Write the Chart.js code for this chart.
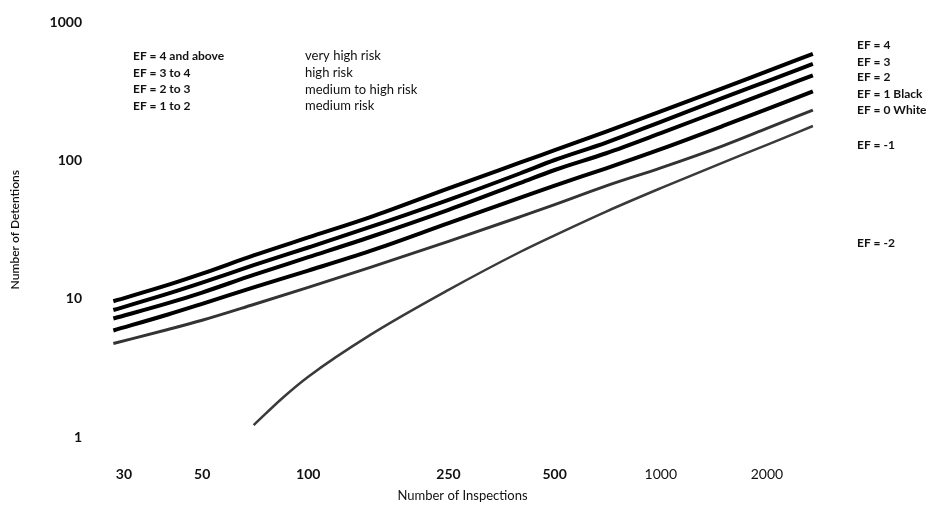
<!DOCTYPE html>
<html>
<head>
<meta charset="utf-8">
<title>Number of Detentions vs Number of Inspections</title>
<script src="https://cdn.jsdelivr.net/npm/chart.js@4.4.1/dist/chart.umd.min.js"></script>
<style>
  html, body { margin: 0; padding: 0; background: #ffffff; }
  .chart-wrap { position: relative; width: 933px; height: 509px; }
</style>
</head>
<body>
<div class="chart-wrap"><canvas id="detentionChart"></canvas></div>
<script>
// inspections (x) and detentions (y)
const inspections = [28, 40, 50, 70, 100, 150, 250, 400, 500, 700, 1000, 1500, 2000, 2700];
const ef4 = [9.6, 12.6, 15.2, 20.6, 27.8, 39, 63, 97, 119, 162, 227, 334, 443, 591];
const ef3 = [8.3, 10.9, 13.1, 17.5, 23.5, 33.1, 52, 81, 101, 135, 191, 284, 375, 501];
const ef2 = [7.2, 9.3, 11.1, 14.9, 20, 28, 44, 69, 85.5, 113, 158, 234, 309, 414];
const ef1 = [5.9, 7.7, 9.2, 12.1, 16, 22.2, 35.3, 54, 66, 88, 121, 178, 236, 317];
const ef0 = [4.75, 6.0, 7.0, 9.1, 12.1, 16.9, 26, 39.3, 48, 65.6, 88.6, 128, 171, 232];

const inspectionsLow = [70, 85, 100, 150, 250, 400, 500, 700, 1000, 1500, 2000, 2700];
const efLow = [1.22, 1.94, 2.73, 5.48, 11.6, 21.9, 28.8, 42.8, 63.2, 96.8, 130, 178];

const xTickValues = [30, 50, 100, 250, 500, 1000, 2000];
const yTickValues = [1, 10, 100, 1000];

const riskBands = ["EF = 4 and above", "EF = 3 to 4", "EF = 2 to 3", "EF = 1 to 2"];
const riskLabels = ["very high risk", "high risk", "medium to high risk", "medium risk"];
const lineLabels = ["EF = 4", "EF = 3", "EF = 2", "EF = 1 Black", "EF = 0 White", "EF = -1", "EF = -2"];

const FONT = "Lato";
const INK = "#111111";

function toPoints(xs, ys) {
  return xs.map((x, i) => ({ x, y: ys[i] }));
}

function lineDataset(label, xs, ys, color, width) {
  return {
    label,
    data: toPoints(xs, ys),
    borderColor: color,
    borderWidth: width,
    pointRadius: 0,
    cubicInterpolationMode: "monotone",
    fill: false
  };
}

// text blocks around the plot (risk key top-left, line names on the right)
const annotationText = {
  id: "annotationText",
  afterDraw(chart) {
    const { ctx } = chart;
    const rightY = [45, 62, 77, 94, 110, 145, 243];
    ctx.save();
    ctx.fillStyle = INK;
    ctx.textBaseline = "middle";
    ctx.textAlign = "left";
    ctx.font = `bold 12px ${FONT}`;
    riskBands.forEach((text, i) => ctx.fillText(text, 133, 56 + i * 16.7));
    ctx.font = `13px ${FONT}`;
    riskLabels.forEach((text, i) => ctx.fillText(text, 305, 56 + i * 16.7));
    ctx.font = `bold 12px ${FONT}`;
    lineLabels.forEach((text, i) => ctx.fillText(text, 857, rightY[i]));
    ctx.restore();
  }
};

new Chart(document.getElementById("detentionChart"), {
  type: "line",
  data: {
    datasets: [
      lineDataset("EF = 4", inspections, ef4, "#000000", 4),
      lineDataset("EF = 3", inspections, ef3, "#000000", 4),
      lineDataset("EF = 2", inspections, ef2, "#000000", 4),
      lineDataset("EF = 1 Black", inspections, ef1, "#000000", 4),
      lineDataset("EF = 0 White", inspections, ef0, "#333333", 3),
      lineDataset("EF = -1", inspectionsLow, efLow, "#3a3a3a", 2.5)
    ]
  },
  options: {
    responsive: true,
    maintainAspectRatio: false,
    animation: false,
    layout: {
      padding: { left: 0, right: 104, top: 20, bottom: 0 }
    },
    plugins: {
      legend: { display: false },
      tooltip: { enabled: false }
    },
    scales: {
      x: {
        type: "logarithmic",
        position: "bottom",
        min: 25,
        max: 3000,
        grid: { display: false, drawTicks: false },
        border: { display: false },
        afterBuildTicks: (scale) => {
          scale.ticks = xTickValues.map((value) => ({ value }));
        },
        afterFit: (scale) => {
          scale.height = 72;
        },
        ticks: {
          padding: 29,
          autoSkip: false,
          maxRotation: 0,
          color: INK,
          font: (ctx) => ({
            family: FONT,
            size: 14,
            weight: ctx.tick && ctx.tick.value >= 1000 ? "normal" : "bold"
          }),
          callback: (value) => String(value)
        },
        title: {
          display: true,
          text: "Number of Inspections",
          color: INK,
          font: { family: FONT, size: 13 },
          padding: { top: 0, bottom: 5 }
        }
      },
      y: {
        type: "logarithmic",
        min: 1,
        max: 1000,
        grid: { display: false, drawTicks: false },
        border: { display: false },
        afterBuildTicks: (scale) => {
          scale.ticks = yTickValues.map((value) => ({ value }));
        },
        afterFit: (scale) => {
          scale.width = 96;
        },
        ticks: {
          padding: 14,
          color: INK,
          font: { family: FONT, size: 14, weight: "bold" },
          callback: (value) => String(value)
        },
        title: {
          display: true,
          text: "Number of Detentions",
          color: INK,
          font: { family: FONT, size: 12, weight: "600" },
          padding: { top: 8, bottom: 0 }
        }
      }
    }
  },
  plugins: [annotationText]
});
</script>
</body>
</html>
